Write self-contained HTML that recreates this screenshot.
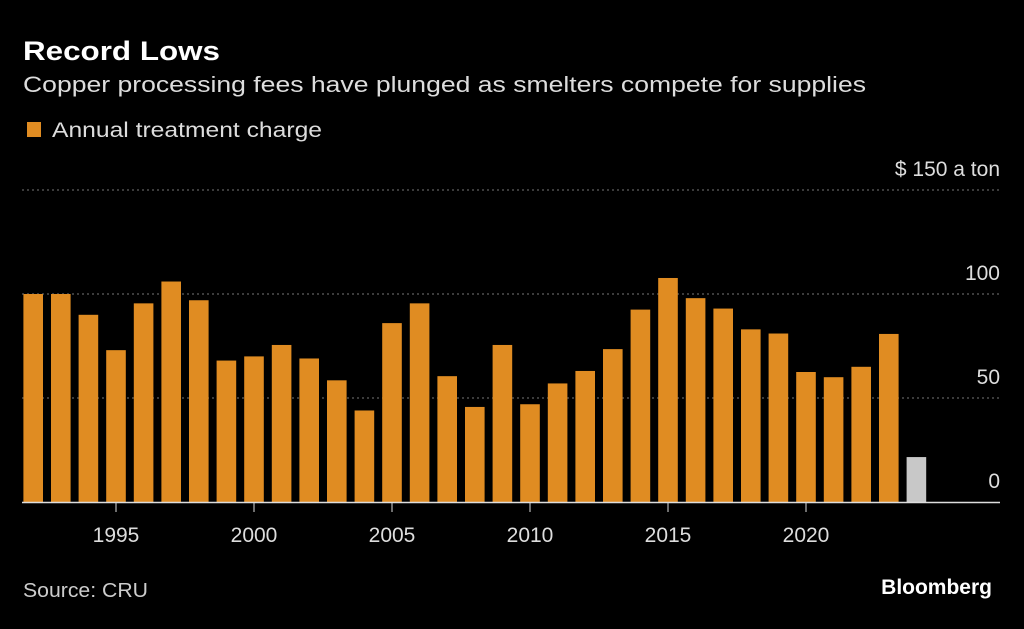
<!DOCTYPE html>
<html><head><meta charset="utf-8"><style>
body{margin:0;background:#000;width:1024px;height:624px;overflow:hidden;font-family:"Liberation Sans",sans-serif;color:#ddd}
</style></head><body>
<svg width="1024" height="624">
<text x="23" y="60" fill="#fff" font-size="27" font-weight="bold" textLength="197" lengthAdjust="spacingAndGlyphs">Record Lows</text>
<text x="23" y="92" fill="#ddd" font-size="22" textLength="843" lengthAdjust="spacingAndGlyphs">Copper processing fees have plunged as smelters compete for supplies</text>
<rect x="27" y="122" width="14" height="15" fill="#e08c22"/>
<text x="52" y="137" fill="#ddd" font-size="21" textLength="270" lengthAdjust="spacingAndGlyphs">Annual treatment charge</text>
<g id="grid"></g><g id="bars"></g><g id="xaxis"></g>
<text x="23" y="597" fill="#ccc" font-size="20" textLength="125" lengthAdjust="spacingAndGlyphs">Source: CRU</text>
<text x="992" y="594" fill="#fff" font-size="21" font-weight="bold" text-anchor="end">Bloomberg</text>
</svg>
<script>
const years=[1992,1993,1994,1995,1996,1997,1998,1999,2000,2001,2002,2003,2004,2005,2006,2007,2008,2009,2010,2011,2012,2013,2014,2015,2016,2017,2018,2019,2020,2021,2022,2023,2024];
const values=[100,100,90,73,95.5,106,97,68,70,75.5,69,58.5,44,86,95.5,60.5,45.7,75.5,47,57,63,73.5,92.5,107.7,98,93,83,81,62.5,60,65,80.8,21.6];
const yTicks=[0,50,100,150];
const yTickLabels=["0","50","100","$ 150 a ton"];
const xTickYears=[1995,2000,2005,2010,2015,2020];
const NS="http://www.w3.org/2000/svg";
const y0=502,pxPer=2.08;
const yS=v=>y0-v*pxPer;
const xS=yr=>33.2+(yr-1992)*27.6;
function mk(t,a,p){const e=document.createElementNS(NS,t);for(const k in a)e.setAttribute(k,a[k]);p.appendChild(e);return e;}
const grid=document.getElementById('grid');
yTicks.forEach((v,i)=>{
 if(v>0){const l=mk('line',{x1:22,x2:1000,y1:yS(v),y2:yS(v),stroke:'#777','stroke-dasharray':'2,3'},grid);
 
 }
 const t=mk('text',{x:1000,y:yS(v)-14,fill:'#ddd','font-size':21,'text-anchor':'end'},grid);
 t.textContent=yTickLabels[i];
 
 
});
const bars=document.getElementById('bars');
years.forEach((yr,i)=>{
 const r=mk('rect',{x:xS(yr)-9.8,y:yS(values[i]),width:19.6,height:values[i]*pxPer,fill:yr===2024?'#c8c8c8':'#e08c22'},bars);
 
 
});
const xa=document.getElementById('xaxis');
const ax=mk('line',{x1:22,x2:1000,y1:y0+0.5,y2:y0+0.5,stroke:'#ddd','stroke-width':1.5},xa);


xTickYears.forEach(yr=>{
 const tk=mk('line',{x1:xS(yr),x2:xS(yr),y1:y0,y2:y0+10,stroke:'#ddd'},xa);
 
 
 const t=mk('text',{x:xS(yr),y:542,fill:'#ddd','font-size':21,'text-anchor':'middle'},xa);
 t.textContent=yr;
 
 
});
</script>
</body></html>
